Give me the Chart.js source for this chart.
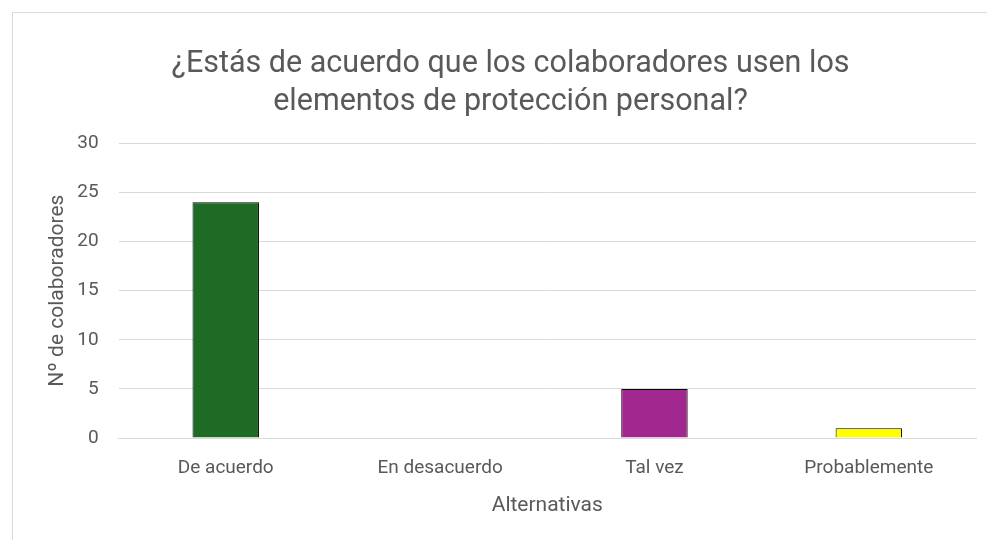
<!DOCTYPE html>
<html>
<head>
<meta charset="utf-8">
<script src="https://cdn.jsdelivr.net/npm/chart.js@4"></script>
<style>
  html, body { margin: 0; padding: 0; background: #fff; overflow: hidden; }
  #box {
    position: absolute; left: 12px; top: 12px;
    width: 975px; height: 528px;
    border-left: 1px solid #d9d9d9; border-top: 1px solid #d9d9d9;
  }
</style>
</head>
<body>
<div id="box"><canvas id="chart"></canvas></div>
<script>
const categories = ['De acuerdo', 'En desacuerdo', 'Tal vez', 'Probablemente'];
const values = [24, 0, 5, 1];
const barColors = ['#1e6b25', '#1e6b25', '#a0288f', '#ffff00'];
const yTicks = [0, 5, 10, 15, 20, 25, 30];

const textColor = '#595959';
const font = 'Roboto, "Liberation Sans", sans-serif';

const ctx = document.getElementById('chart');
new Chart(ctx, {
  type: 'bar',
  data: {
    labels: categories,
    datasets: [{
      data: values,
      backgroundColor: barColors,
      borderColor: '#000',
      borderWidth: 1,
      categoryPercentage: 1,
      barPercentage: 0.31
    }]
  },
  options: {
    responsive: true,
    maintainAspectRatio: false,
    animation: false,
    layout: { padding: { left: 32, right: 12, top: 32, bottom: 23 } },
    plugins: {
      legend: { display: false },
      tooltip: { enabled: false },
      title: {
        display: true,
        text: ['¿Estás de acuerdo que los colaboradores usen los', 'elementos de protección personal?'],
        color: textColor,
        font: { family: font, size: 30.5, weight: 'normal', lineHeight: 1.25 },
        padding: { top: 0, bottom: 22 }
      }
    },
    scales: {
      x: {
        grid: { display: false, drawTicks: false },
        border: { display: true, color: '#d9d9d9' },
        ticks: { color: textColor, font: { family: font, size: 19 }, padding: 19 },
        title: {
          display: true, text: 'Alternativas', color: textColor,
          font: { family: font, size: 21 }, padding: { top: -6, bottom: 0 }
        }
      },
      y: {
        min: 0, max: 30,
        afterBuildTicks: axis => { axis.ticks = yTicks.map(v => ({ value: v })); },
        grid: { color: '#d9d9d9', drawTicks: false },
        border: { display: false },
        ticks: { color: textColor, font: { family: font, size: 19 }, padding: 20 },
        title: {
          display: true, text: 'Nº de colaboradores', color: textColor,
          font: { family: font, size: 21 }, padding: { top: 0, bottom: -13 }
        }
      }
    }
  }
});
</script>
</body>
</html>
